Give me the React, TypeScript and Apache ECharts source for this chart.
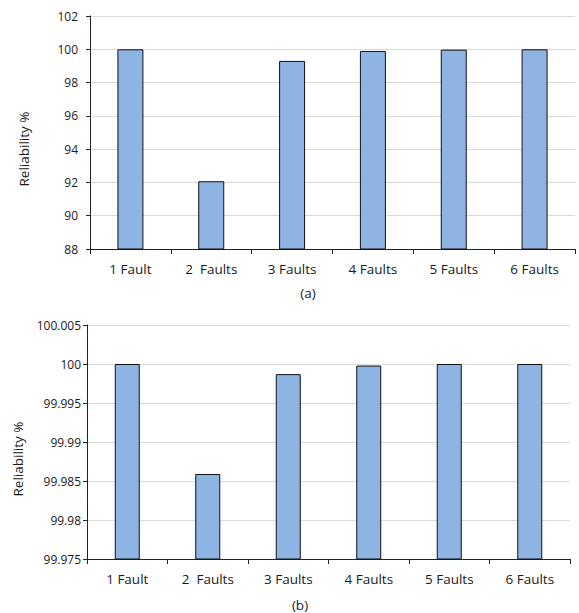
import React, { useEffect, useRef } from "react";
import * as echarts from "echarts";

const categories = ["1 Fault", "2  Faults", "3 Faults", "4 Faults", "5 Faults", "6 Faults"];
const valuesA = [100, 92.07, 99.3, 99.9, 99.98, 100];
const valuesB = [100, 99.9859, 99.9987, 99.9998, 100, 100];
const axisNameText = "Reliability %";
const panelLabels = ["(a)", "(b)"];

const FONT = "'Open Sans', 'Liberation Sans', sans-serif";
const TXT = "#1a1a1a";

export default function App() {
  const ref = useRef<HTMLDivElement>(null);
  useEffect(() => {
    if (!ref.current) return;
    const chart = echarts.init(ref.current, undefined, { renderer: "svg" });
    const xAxisBase = (gridIndex: number) => ({
      type: "category" as const,
      gridIndex,
      data: categories,
      axisLine: { lineStyle: { color: "#222", width: 1 } },
      axisTick: { show: true, length: 5, lineStyle: { color: "#222" } },
      axisLabel: { color: TXT, fontFamily: FONT, fontSize: 13.5, margin: 13 },
    });
    const yAxisBase = (gridIndex: number) => ({
      type: "value" as const,
      gridIndex,
      axisLine: { show: true, lineStyle: { color: "#222", width: 1 } },
      axisTick: { show: true, length: 4, lineStyle: { color: "#222" } },
      splitLine: { show: true, lineStyle: { color: "#d9d9d9", width: 1 } },
    });
    const barStyle = {
      color: "#8db4e2",
      borderColor: "#111",
      borderWidth: 1,
    };
    const nameStyle = (text: string) => ({
      text,
      fill: TXT,
      font: `13.5px ${FONT}`,
      align: "center",
      verticalAlign: "middle",
    });
    chart.setOption({
      animation: false,
      grid: [
        { left: 90, top: 16, width: 485, height: 233 },
        { left: 87, top: 325, width: 483, height: 234 },
      ],
      xAxis: [xAxisBase(0), xAxisBase(1)],
      yAxis: [
        {
          ...yAxisBase(0),
          min: 88,
          max: 102,
          interval: 2,
          axisLabel: { color: TXT, fontFamily: FONT, fontSize: 12, margin: 12 },
        },
        {
          ...yAxisBase(1),
          min: 99.975,
          max: 100.005,
          interval: 0.005,
          axisLabel: {
            color: TXT,
            fontFamily: FONT,
            fontSize: 12,
            margin: 6,
            formatter: (v: number) => String(parseFloat(v.toFixed(3))),
          },
        },
      ],
      series: [
        {
          type: "bar",
          xAxisIndex: 0,
          yAxisIndex: 0,
          data: valuesA,
          barWidth: 26,
          itemStyle: barStyle,
        },
        {
          type: "bar",
          xAxisIndex: 1,
          yAxisIndex: 1,
          data: valuesB,
          barWidth: 25,
          itemStyle: barStyle,
        },
      ],
      graphic: [
        { type: "text", x: 24, y: 149, rotation: Math.PI / 2, style: nameStyle(axisNameText) },
        { type: "text", x: 18, y: 459, rotation: Math.PI / 2, style: nameStyle(axisNameText) },
        { type: "text", x: 308, y: 293, style: nameStyle(panelLabels[0]) },
        { type: "text", x: 300, y: 605, style: nameStyle(panelLabels[1]) },
      ],
    });
    return () => chart.dispose();
  }, []);
  return (
    <div
      ref={ref}
      style={{ position: "fixed", left: 0, top: 0, width: 579, height: 613, background: "#fff" }}
    />
  );
}
